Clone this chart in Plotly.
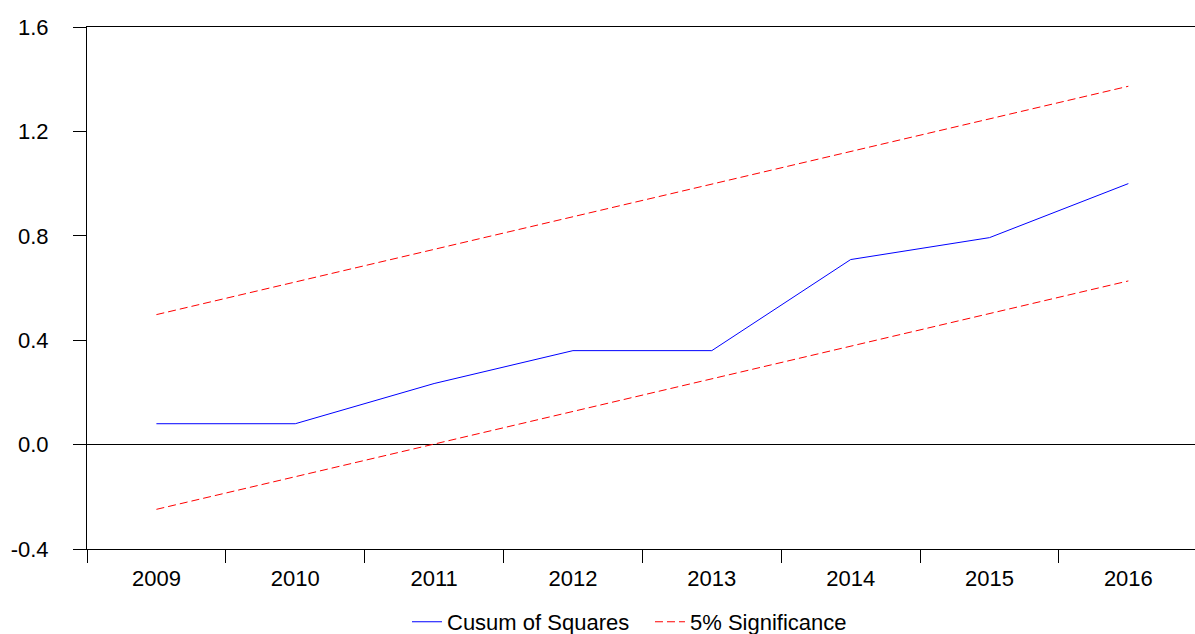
import plotly.graph_objects as go

years = ["2009", "2010", "2011", "2012", "2013", "2014", "2015", "2016"]
cusum_sq = [0.080, 0.080, 0.234, 0.360, 0.360, 0.709, 0.793, 1.000]
upper_5 = [0.498, 0.623, 0.748, 0.873, 0.998, 1.123, 1.248, 1.373]
lower_5 = [-0.248, -0.123, 0.002, 0.127, 0.252, 0.377, 0.502, 0.627]
y_ticks = [-0.4, 0.0, 0.4, 0.8, 1.2, 1.6]
y_tick_text = ["-0.4", "0.0", "0.4", "0.8", "1.2", "1.6"]

FONT = "Arial, Liberation Sans, sans-serif"

fig = go.Figure()
fig.add_trace(go.Scatter(x=years, y=cusum_sq, mode="lines", name="Cusum of Squares",
                         line=dict(color="rgb(0,0,255)", width=1)))
fig.add_trace(go.Scatter(x=years, y=upper_5, mode="lines", name="5% Significance",
                         line=dict(color="rgb(255,0,0)", width=1, dash="8px,4px")))
fig.add_trace(go.Scatter(x=years, y=lower_5, mode="lines", name="5% Significance",
                         showlegend=False,
                         line=dict(color="rgb(255,0,0)", width=1, dash="8px,4px")))

fig.update_layout(
    width=1195, height=634,
    margin=dict(l=87, r=0, t=27, b=85, autoexpand=False),
    paper_bgcolor="white", plot_bgcolor="white",
    font=dict(family=FONT, size=22, color="black"),
    showlegend=True,
    legend=dict(orientation="h", x=0.2888, xanchor="left",
                yref="container", y=0.019, yanchor="middle",
                font=dict(size=22), entrywidth=198, entrywidthmode="pixels",
                tracegroupgap=0),
)
fig.update_xaxes(
    type="category", tickson="boundaries", ticks="outside", ticklen=13,
    tickcolor="black", showline=True, linecolor="black", linewidth=1,
    mirror=True, showgrid=False, zeroline=False, range=[-0.5, 7.48],
    ticklabelstandoff=10, tickfont=dict(size=22),
)
fig.update_yaxes(
    range=[-0.4, 1.6], tickvals=y_ticks, ticktext=y_tick_text, ticks="outside",
    ticklen=13, tickcolor="black", showline=True, linecolor="black", linewidth=1,
    showgrid=False, zeroline=True, zerolinecolor="black", zerolinewidth=1,
    ticklabelstandoff=20, tickfont=dict(size=22),
)

fig.write_html("out.html", config={"displayModeBar": False},
               post_script="document.body.style.margin='0';")
